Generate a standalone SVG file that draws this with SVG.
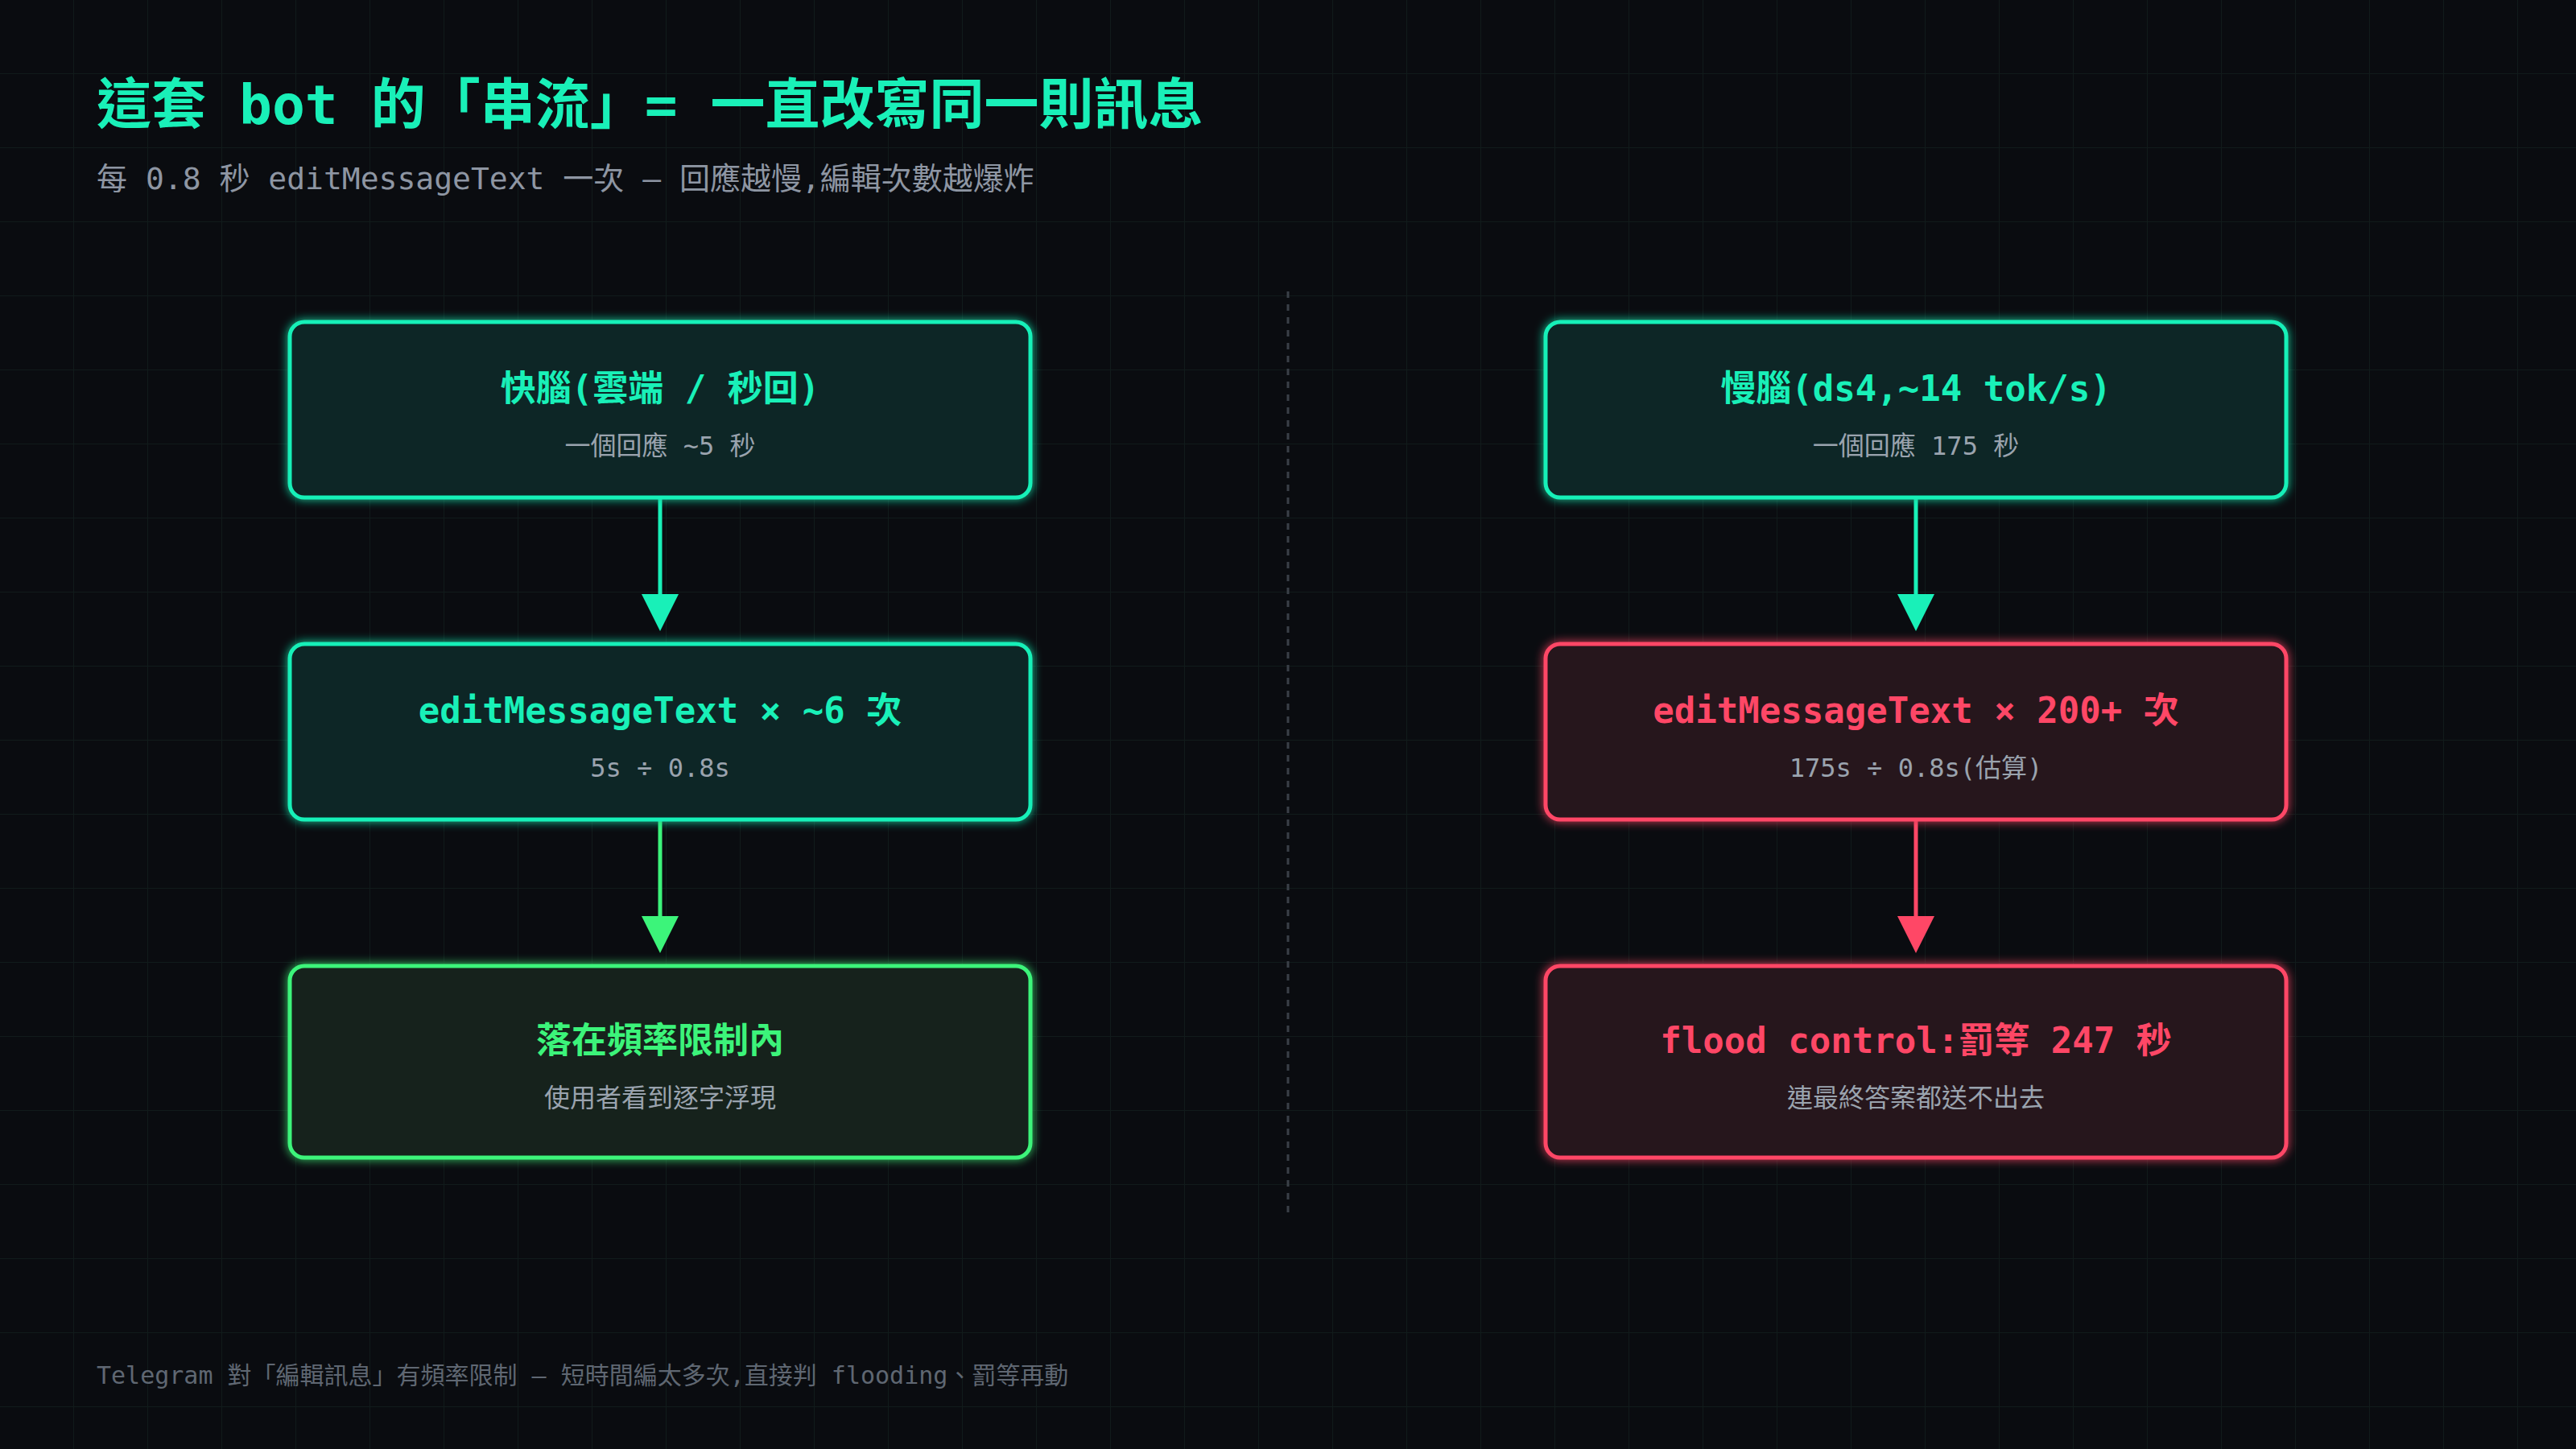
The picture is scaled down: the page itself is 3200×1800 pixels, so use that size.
<svg xmlns="http://www.w3.org/2000/svg" width="3200" height="1800" viewBox="0 0 3200 1800">
<defs>
<pattern id="grid" width="92" height="92" patternUnits="userSpaceOnUse"><path d="M92 0V92H0" fill="none" stroke="#111b1b" stroke-width="2"/></pattern>
<filter id="glow" x="-10%" y="-20%" width="120%" height="140%"><feGaussianBlur stdDeviation="6" result="b"/><feMerge><feMergeNode in="b"/><feMergeNode in="SourceGraphic"/></feMerge></filter>
</defs>
<style>
text{font-family:"DejaVu Sans Mono","Noto Sans CJK TC",monospace;text-anchor:middle}
.t{font-weight:bold;font-size:44px}
.s{font-size:32px;fill:#9aa3ae}
.teal rect{fill:#0b2525;stroke:#19f0b8}
.green rect{fill:#12221a;stroke:#3cf47a}
.red rect{fill:#26121b;stroke:#ff4766}
rect{stroke-width:5}
</style>
<rect width="3200" height="1800" fill="#0a0c10"/>
<rect width="3200" height="1800" fill="url(#grid)"/>
<text x="120" y="154" style="text-anchor:start;font-weight:bold;font-size:68px" fill="#19f0b8">這套 bot 的「串流」= 一直改寫同一則訊息</text>
<text x="120" y="235" style="text-anchor:start;font-size:38px" fill="#8e96a3">每 0.8 秒 editMessageText 一次 — 回應越慢,編輯次數越爆炸</text>
<line x1="1600" y1="362" x2="1600" y2="1510" stroke="#3a4048" stroke-width="3" stroke-dasharray="8 8"/>
<g id="connectors" stroke-width="5">
<line x1="820" y1="620" x2="820" y2="740" stroke="#19f0b8"/>
<path d="M797 738h46l-23 46z" fill="#19f0b8"/>
<line x1="820" y1="1020" x2="820" y2="1140" stroke="#3cf47a"/>
<path d="M797 1138h46l-23 46z" fill="#3cf47a"/>
<line x1="2380" y1="620" x2="2380" y2="740" stroke="#19f0b8"/>
<path d="M2357 738h46l-23 46z" fill="#19f0b8"/>
<line x1="2380" y1="1020" x2="2380" y2="1140" stroke="#ff4766"/>
<path d="M2357 1138h46l-23 46z" fill="#ff4766"/>
</g>
<g id="fast" class="teal"><rect x="360" y="400" width="920" height="218" rx="18" filter="url(#glow)"/>
<text class="t" x="820" y="498" fill="#19f0b8">快腦(雲端 / 秒回)</text><text class="s" x="820" y="565">一個回應 ~5 秒</text></g>
<g id="fastedit" class="teal"><rect x="360" y="800" width="920" height="218" rx="18" filter="url(#glow)"/>
<text class="t" x="820" y="898" fill="#19f0b8">editMessageText × ~6 次</text><text class="s" x="820" y="965">5s ÷ 0.8s</text></g>
<g id="fastok" class="green"><rect x="360" y="1200" width="920" height="238" rx="18" filter="url(#glow)"/>
<text class="t" x="820" y="1308" fill="#3cf47a">落在頻率限制內</text><text class="s" x="820" y="1375">使用者看到逐字浮現</text></g>
<g id="slow" class="teal"><rect x="1920" y="400" width="920" height="218" rx="18" filter="url(#glow)"/>
<text class="t" x="2380" y="498" fill="#19f0b8">慢腦(ds4,~14 tok/s)</text><text class="s" x="2380" y="565">一個回應 175 秒</text></g>
<g id="slowedit" class="red"><rect x="1920" y="800" width="920" height="218" rx="18" filter="url(#glow)"/>
<text class="t" x="2380" y="898" fill="#ff4766">editMessageText × 200+ 次</text><text class="s" x="2380" y="965">175s ÷ 0.8s(估算)</text></g>
<g id="flood" class="red"><rect x="1920" y="1200" width="920" height="238" rx="18" filter="url(#glow)"/>
<text class="t" x="2380" y="1308" fill="#ff4766">flood control:罰等 247 秒</text><text class="s" x="2380" y="1375">連最終答案都送不出去</text></g>
<text x="120" y="1719" style="text-anchor:start;font-size:30px" fill="#5f6772">Telegram 對「編輯訊息」有頻率限制 — 短時間編太多次,直接判 flooding、罰等再動</text>
</svg>
